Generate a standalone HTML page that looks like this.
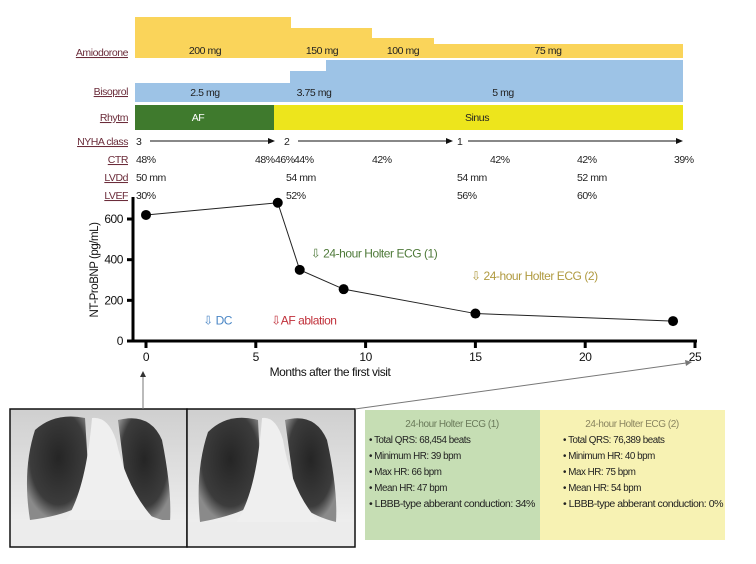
<!DOCTYPE html>
<html><head><meta charset="utf-8"><style>
html,body{margin:0;padding:0;background:#fff;}
svg{display:block;font-family:"Liberation Sans",sans-serif;}
text{letter-spacing:-0.45px;}
.lbl{font-size:10.5px;fill:#6b2c3a;text-decoration:underline;}
.t{font-size:10.5px;fill:#222;}
.b{font-size:9.8px;fill:#222;}
</style></head><body>
<svg width="756" height="564" viewBox="0 0 756 564">
<defs>
<radialGradient id="lung" cx="50%" cy="40%" r="60%"><stop offset="0" stop-color="#252525"/><stop offset="0.75" stop-color="#3c3c3c"/><stop offset="1" stop-color="#8a8a8a"/></radialGradient>
<linearGradient id="bg" x1="0" y1="0" x2="0" y2="1"><stop offset="0" stop-color="#cfcfcf"/><stop offset="1" stop-color="#f4f4f4"/></linearGradient>
</defs>
<g>
<rect x="135" y="17" width="156" height="41" fill="#fad45a"/>
<rect x="291" y="28" width="81" height="30" fill="#fad45a"/>
<rect x="372" y="38" width="62" height="20" fill="#fad45a"/>
<rect x="434" y="44" width="249" height="14" fill="#fad45a"/>
<text class="t" x="205" y="54" text-anchor="middle">200 mg</text>
<text class="t" x="322" y="54" text-anchor="middle">150 mg</text>
<text class="t" x="403" y="54" text-anchor="middle">100 mg</text>
<text class="t" x="548" y="54" text-anchor="middle">75 mg</text>
</g>
<g>
<rect x="135" y="83" width="155" height="19" fill="#9dc3e6"/>
<rect x="290" y="71" width="36" height="31" fill="#9dc3e6"/>
<rect x="326" y="60" width="357" height="42" fill="#9dc3e6"/>
<text class="t" x="205" y="96" text-anchor="middle">2.5 mg</text>
<text class="t" x="314" y="96" text-anchor="middle">3.75 mg</text>
<text class="t" x="503" y="96" text-anchor="middle">5 mg</text>
</g>
<g>
<rect x="135" y="105" width="139" height="25" fill="#3f7a2d"/>
<rect x="274" y="105" width="409" height="25" fill="#ede51c"/>
<text x="198" y="121" text-anchor="middle" font-size="10.5" fill="#fff">AF</text>
<text class="t" x="477" y="121" text-anchor="middle">Sinus</text>
</g>
<g>
<text class="lbl" x="128" y="56" text-anchor="end">Amiodorone</text>
<text class="lbl" x="128" y="95" text-anchor="end">Bisoprol</text>
<text class="lbl" x="128" y="121" text-anchor="end">Rhytm</text>
<text class="lbl" x="128" y="145" text-anchor="end">NYHA class</text>
<text class="lbl" x="128" y="163" text-anchor="end">CTR</text>
<text class="lbl" x="128" y="181" text-anchor="end">LVDd</text>
<text class="lbl" x="128" y="199" text-anchor="end">LVEF</text>
</g>
<g stroke="#111" fill="#111">
<text class="t" x="136" y="145" stroke="none">3</text>
<line x1="150" y1="141" x2="270" y2="141"/><polygon points="275,141 268,138 268,144" stroke="none"/>
<text class="t" x="284" y="145" stroke="none">2</text>
<line x1="298" y1="141" x2="448" y2="141"/><polygon points="453,141 446,138 446,144" stroke="none"/>
<text class="t" x="457" y="145" stroke="none">1</text>
<line x1="468" y1="141" x2="676" y2="141"/><polygon points="683,141 676,138 676,144" stroke="none"/>
</g>
<g>
<text class="t" x="136" y="163">48%</text><text class="t" x="255" y="163">48%</text><text class="t" x="275" y="163">46%</text><text class="t" x="294" y="163">44%</text><text class="t" x="372" y="163">42%</text><text class="t" x="490" y="163">42%</text><text class="t" x="577" y="163">42%</text><text class="t" x="674" y="163">39%</text>
</g>
<g>
<text class="t" x="136" y="181">50 mm</text><text class="t" x="286" y="181">54 mm</text><text class="t" x="457" y="181">54 mm</text><text class="t" x="577" y="181">52 mm</text>
</g>
<g>
<text class="t" x="136" y="199">30%</text><text class="t" x="286" y="199">52%</text><text class="t" x="457" y="199">56%</text><text class="t" x="577" y="199">60%</text>
</g>
<g id="chart"></g>
<g>
<rect x="10" y="409" width="177" height="138" fill="url(#bg)"/>
<path d="M35,430 Q55,412 85,418 L90,500 Q70,515 30,520 Q22,470 35,430Z" fill="url(#lung)"/>
<path d="M118,420 Q150,412 162,440 Q172,490 170,522 Q140,515 128,500 Z" fill="url(#lung)"/>
<path d="M92,418 Q108,416 116,440 Q128,495 160,525 L60,528 Q85,500 92,418Z" fill="#efefef"/>
<rect x="10" y="520" width="177" height="27" fill="#ececec"/>
<rect x="10" y="409" width="177" height="138" fill="none" stroke="#111" stroke-width="1.5"/>
</g>
<g>
<rect x="187" y="409" width="168" height="138" fill="url(#bg)"/>
<path d="M208,432 Q228,412 258,420 L262,500 Q240,515 200,522 Q195,470 208,432Z" fill="url(#lung)"/>
<path d="M285,420 Q315,412 327,440 Q338,490 336,522 Q308,515 296,500 Z" fill="url(#lung)"/>
<path d="M262,418 Q276,416 283,440 Q292,495 322,525 L232,528 Q256,500 262,418Z" fill="#efefef"/>
<rect x="187" y="522" width="168" height="25" fill="#ececec"/>
<rect x="187" y="409" width="168" height="138" fill="none" stroke="#111" stroke-width="1.5"/>
</g>
<g stroke="#777" fill="#333">
<line x1="143" y1="409" x2="143" y2="376"/><polygon points="143,371 140,377 146,377" stroke="none"/>
<line x1="355" y1="409" x2="686" y2="363"/><polygon points="692,362 685,360 686,366" fill="#777" stroke="none"/>
</g>
<g>
<rect x="365" y="410" width="175" height="130" fill="#c6deb4"/>
<text x="452" y="427" text-anchor="middle" font-size="10" fill="#6a7a5a">24-hour Holter ECG (1)</text>
<text class="b" x="369" y="443">• Total QRS: 68,454 beats</text>
<text class="b" x="369" y="459">• Minimum HR: 39 bpm</text>
<text class="b" x="369" y="475">• Max HR: 66 bpm</text>
<text class="b" x="369" y="491">• Mean HR: 47 bpm</text>
<text class="b" x="369" y="507" textLength="166" lengthAdjust="spacingAndGlyphs">• LBBB-type abberant conduction: 34%</text>
</g>
<g>
<rect x="540" y="410" width="185" height="130" fill="#f7f2b3"/>
<text x="632" y="427" text-anchor="middle" font-size="10" fill="#8a8560">24-hour Holter ECG (2)</text>
<text class="b" x="563" y="443">• Total QRS: 76,389 beats</text>
<text class="b" x="563" y="459">• Minimum HR: 40 bpm</text>
<text class="b" x="563" y="475">• Max HR: 75 bpm</text>
<text class="b" x="563" y="491">• Mean HR: 54 bpm</text>
<text class="b" x="563" y="507" textLength="160" lengthAdjust="spacingAndGlyphs">• LBBB-type abberant conduction: 0%</text>
</g>
</svg>
<script>
const months=[0,6,7,9,15,24];
const bnp=[620,680,350,255,135,98];
const xTicks=[0,5,10,15,20,25];
const yTicks=[0,200,400,600];
const ns="http://www.w3.org/2000/svg";
const g=document.getElementById('chart');
const X=m=>146+m*21.96;
const Y=v=>341-v*0.2033;
function mk(t,a,p){const e=document.createElementNS(ns,t);for(const k in a)e.setAttribute(k,a[k]);(p||g).appendChild(e);return e;}
let ax=mk('line',{x1:133,y1:197,x2:133,y2:341,stroke:'#000','stroke-width':3});


let bx=mk('line',{x1:131,y1:341,x2:697,y2:341,stroke:'#000','stroke-width':3});


xTicks.forEach(t=>{
 let l=mk('line',{x1:X(t),y1:341,x2:X(t),y2:348,stroke:'#000','stroke-width':3});
 
 
 let tx=mk('text',{x:X(t),y:361,'text-anchor':'middle','font-size':12,fill:'#111'});tx.textContent=t;
 
 
});
yTicks.forEach(t=>{
 let l=mk('line',{x1:127,y1:Y(t),x2:133,y2:Y(t),stroke:'#000','stroke-width':3});
 
 
 let tx=mk('text',{x:123,y:Y(t)+4,'text-anchor':'end','font-size':12,fill:'#111'});tx.textContent=t;
 
 
});
let pl=mk('polyline',{points:months.map((m,i)=>X(m)+','+Y(bnp[i])).join(' '),fill:'none',stroke:'#222','stroke-width':1});


months.forEach((m,i)=>{
 let c=mk('circle',{cx:X(m),cy:Y(bnp[i]),r:5,fill:'#000'});
 
 
});
let yl=mk('text',{x:0,y:0,transform:'translate(98,270) rotate(-90)','text-anchor':'middle','font-size':11.5,fill:'#111'});yl.textContent='NT-ProBNP (pg/mL)';


let xl=mk('text',{x:330,y:376,'text-anchor':'middle','font-size':12,fill:'#111'});xl.textContent='Months after the first visit';


const ann=[['⇩ DC',X(2.6),Y(80),'#4a86c5','dc-annotation'],['⇩AF ablation',X(5.7),Y(80),'#c0303a','ablation-annotation'],['⇩ 24-hour Holter ECG (1)',X(7.5),Y(410),'#4f7a3a','holter-1-annotation'],['⇩ 24-hour Holter ECG (2)',X(14.8),Y(300),'#b09a40','holter-2-annotation']];
ann.forEach(a=>{
 let t=mk('text',{x:a[1],y:a[2],'font-size':12,fill:a[3]});t.textContent=a[0];
 
 
});
</script>
</body></html>
